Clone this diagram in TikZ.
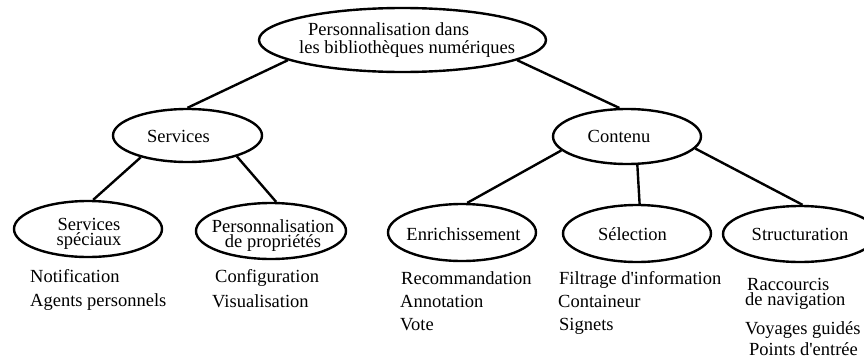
\documentclass[tikz,border=0pt]{standalone}
\usepackage{fontspec}
\setmainfont{Liberation Serif}
\usetikzlibrary{shapes.geometric}
\begin{document}
\begin{tikzpicture}[x=1pt,y=-1pt,
  oval/.style={ellipse, draw, line width=2.4pt, inner sep=0pt},
  lbl/.style={inner sep=0pt, anchor=base, font=\fontsize{18.5}{15.5}\selectfont, align=center},
  item/.style={inner sep=0pt, anchor=base west, font=\fontsize{18.5}{22}\selectfont},
  link/.style={line width=2.4pt}]
\useasboundingbox[fill=white] (0,0) rectangle (864,362);

% tree nodes
\node[oval, minimum width=287pt, minimum height=64pt] (root) at (402.5,40) {};
\node[oval, minimum width=149pt, minimum height=53pt] (serv) at (187.5,135.5) {};
\node[oval, minimum width=148pt, minimum height=55pt] (cont) at (627,136.5) {};
\node[oval, minimum width=148pt, minimum height=56pt] (spec) at (88,229) {};
\node[oval, minimum width=150pt, minimum height=56pt] (prop) at (271,231) {};
\node[oval, minimum width=148pt, minimum height=57pt] (enri) at (462,232.5) {};
\node[oval, minimum width=148pt, minimum height=57pt] (sele) at (637,233.5) {};
\node[oval, minimum width=154pt, minimum height=56pt] (stru) at (800,234) {};

% labels inside the ovals (base anchor = baseline of the last line)
\node[lbl, align=left, anchor=base west, font=\fontsize{18.5}{18}\selectfont] (rootlbl) at (299,53)
  {\hspace*{9pt}Personnalisation dans\\les bibliothèques numériques};
\node[lbl] (servlbl) at (178.5,142) {Services};
\node[lbl] (contlbl) at (619,142) {Contenu};
\node[lbl] (speclbl) at (89,245.5) {Services\\spéciaux};
\node[lbl] (proplbl) at (273,247.5) {Personnalisation\\de propriétés};
\node[lbl] (enrilbl) at (463.5,240) {Enrichissement};
\node[lbl] (selelbl) at (632.5,240) {Sélection};
\node[lbl] (strulbl) at (800,240) {Structuration};

% connectors
\draw[link] (root.190) -- (serv.north);
\draw[link] (root.350) -- (cont.105);
\draw[link] (serv.205) -- (spec.80);
\draw[link] (serv.337) -- (prop.80);
\draw[link] (cont.192) -- (enri.80);
\draw[link] (cont.290) -- (sele.85);
\draw[link] (cont.350) -- (stru.85);

% lists of items under the leaves
\node[item] (i1) at (30,282) {Notification};
\node[item] (i2) at (30,306) {Agents personnels};
\node[item] (i3) at (215,282) {Configuration};
\node[item] (i4) at (212,307) {Visualisation};
\node[item] (i5) at (401,284) {Recommandation};
\node[item] (i6) at (400,307) {Annotation};
\node[item] (i7) at (400,330) {Vote};
\node[item] (i8) at (559,284) {Filtrage d\textquotesingle information};
\node[item] (i9) at (558,307) {Containeur};
\node[item] (i10) at (559,330) {Signets};
\node[item] (i11) at (747,290) {Raccourcis};
\node[item] (i12) at (745,305.5) {de navigation};
\node[item] (i13) at (745,334) {Voyages guidés};
\node[item] (i14) at (749,355) {Points d\textquotesingle entrée};
\end{tikzpicture}
\end{document}
